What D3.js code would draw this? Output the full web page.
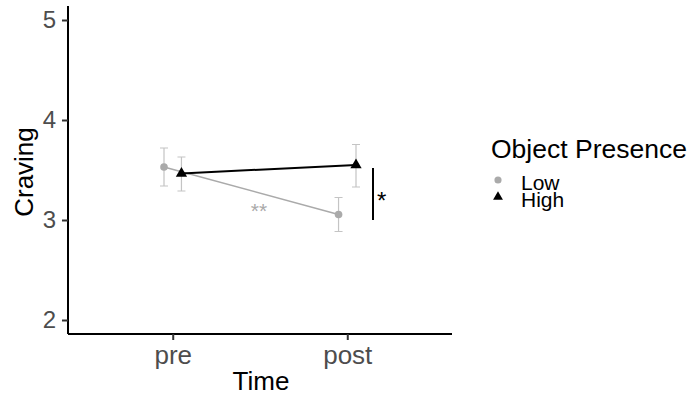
<!DOCTYPE html>
<html>
<head>
<meta charset="utf-8">
<script src="https://cdn.jsdelivr.net/npm/d3@7"></script>
<style>
  body { margin: 0; background: #fff; }
  text { font-family: "Liberation Sans", Arial, sans-serif; }
</style>
</head>
<body>
<div id="chart"></div>
<script>
// data
const times = ['pre', 'post'];
const groups = ['Low', 'High'];
const lowMean = [3.53, 3.055];
const lowLo = [3.34, 2.885];
const lowHi = [3.72, 3.225];
const highMean = [3.465, 3.55];
const highLo = [3.29, 3.33];
const highHi = [3.63, 3.755];
const yTicks = [2, 3, 4, 5];

const width = 691, height = 396;
const svg = d3.select('#chart').append('svg')
  .attr('width', width).attr('height', height);

const x = d3.scaleLinear().domain([0.4, 2.6]).range([68, 452]);
const y = d3.scaleLinear().domain([1.86, 5.14]).range([334, 6]);
const dodge = {Low: -0.05, High: 0.05};
const colors = {Low: '#aaaaaa', High: '#000000'};

const series = [
  {g: 'Low', mean: lowMean, lo: lowLo, hi: lowHi},
  {g: 'High', mean: highMean, lo: highLo, hi: highHi}
].map(s => ({
  g: s.g,
  pts: times.map((t, i) => ({x: i + 1 + dodge[s.g], m: s.mean[i], lo: s.lo[i], hi: s.hi[i]}))
}));

// axes
const yAxis = svg.append('g').attr('transform', 'translate(68,0)')
  .call(d3.axisLeft(y).tickValues(yTicks).tickSize(6).tickPadding(6).tickFormat(d3.format('d')));
const xAxis = svg.append('g').attr('transform', 'translate(0,334)')
  .call(d3.axisBottom(x).tickValues([1, 2]).tickSize(6).tickPadding(6).tickFormat(d => times[d - 1]));
[yAxis, xAxis].forEach(a => {
  a.select('.domain').attr('stroke', '#000').attr('stroke-width', 2);
  a.selectAll('.tick line').attr('stroke', '#333').attr('stroke-width', 2);
  a.selectAll('.tick text').attr('fill', '#4d4d4d');
});
yAxis.selectAll('.tick text').style('font-size', '24px');
xAxis.selectAll('.tick text').style('font-size', '26px');
yAxis.select('.domain').attr('d', 'M0,6V334');
xAxis.select('.domain').attr('d', 'M68,0H452');

// titles
svg.append('text').attr('x', 261).attr('y', 390).attr('text-anchor', 'middle')
  .style('font-size', '26px').text('Time');
svg.append('text').attr('transform', 'translate(33,172) rotate(-90)').attr('text-anchor', 'middle')
  .style('font-size', '26px').text('Craving');

// error bars
const eb = svg.append('g');
series.forEach(s => {
  s.pts.forEach(p => {
    const cx = x(p.x);
    eb.append('path')
      .attr('d', `M${cx - 4},${y(p.hi)}H${cx + 4}M${cx},${y(p.hi)}V${y(p.lo)}M${cx - 4},${y(p.lo)}H${cx + 4}`)
      .attr('fill', 'none').attr('stroke', '#c4c4c4').attr('stroke-width', 1.2);
  });
});

// lines and points
const line = d3.line().x(p => x(p.x)).y(p => y(p.m));
series.forEach(s => {
  svg.append('path').datum(s.pts).attr('d', line)
    .attr('fill', 'none').attr('stroke', colors[s.g]).attr('stroke-width', s.g === 'High' ? 2 : 1.6);
  const sym = d3.symbol().type(s.g === 'Low' ? d3.symbolCircle : d3.symbolTriangle).size(s.g === 'Low' ? 46 : 55);
  svg.append('g').selectAll('path').data(s.pts).join('path')
    .attr('transform', p => `translate(${x(p.x)},${y(p.m)})`)
    .attr('d', sym).attr('fill', colors[s.g]);
});

// significance annotations
svg.append('line').attr('x1', 373).attr('x2', 373).attr('y1', y(3.52)).attr('y2', y(3.0))
  .attr('stroke', '#000').attr('stroke-width', 2);
svg.append('text').attr('x', 377).attr('y', 209).style('font-size', '24px').text('*');
svg.append('text').attr('x', 259).attr('y', 218).attr('text-anchor', 'middle')
  .attr('fill', '#aaaaaa').style('font-size', '21px').text('**');

// legend
const lg = svg.append('g').attr('transform', 'translate(491,0)');
lg.append('text').attr('x', 0).attr('y', 158).style('font-size', '26.5px').text('Object Presence');
groups.forEach((g, i) => {
  const yy = 180 + i * 17;
  lg.append('path').attr('transform', `translate(7,${yy})`)
    .attr('d', d3.symbol().type(g === 'Low' ? d3.symbolCircle : d3.symbolTriangle).size(g === 'Low' ? 40 : 42))
    .attr('fill', colors[g]);
  lg.append('text').attr('x', 30).attr('y', yy + 10).style('font-size', '21px').text(g);
});
</script>
</body>
</html>
